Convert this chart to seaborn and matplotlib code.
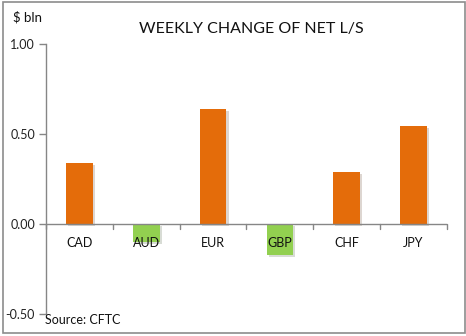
import matplotlib
matplotlib.use("Agg")
import matplotlib.pyplot as plt
import matplotlib.patheffects as pe
from matplotlib.patches import Rectangle
import seaborn as sns
import pandas as pd
import numpy as np

categories = ["CAD", "AUD", "EUR", "GBP", "CHF", "JPY"]
values = [0.34, -0.10, 0.64, -0.17, 0.29, 0.545]
bar_colors = ["#E46C0A", "#92D050", "#E46C0A", "#92D050", "#E46C0A", "#E46C0A"]
y_ticks = [-0.50, 0.00, 0.50, 1.00]
y_tick_labels = ["-0.50", "0.00", "0.50", "1.00"]

sns.set_theme(style="white")
plt.rcParams["font.family"] = ["Lato", "DejaVu Sans"]

df = pd.DataFrame({"cat": categories, "val": values})

fig = plt.figure(figsize=(4.66, 3.36), dpi=100)
ax = fig.add_axes([46/466, 1-314/336, (447-46)/466, (314-44)/336])

sns.barplot(data=df, x="cat", y="val", hue="cat", palette=bar_colors,
            legend=False, width=0.4, ax=ax, saturation=1, linewidth=0)
for p in ax.patches:
    p.set_edgecolor("none")
    p.set_linewidth(0)
    p.set_path_effects([pe.SimplePatchShadow(offset=(1.5, -1.5), alpha=0.18), pe.Normal()])

ax.set_ylim(-0.5, 1.0)
ax.set_xlim(-0.5, len(categories) - 0.5)
ax.set_yticks(y_ticks)
ax.set_yticklabels(y_tick_labels, fontsize=9, color="#222222")
ax.set_xlabel("")
ax.set_ylabel("")

for s in ["top", "right", "bottom"]:
    ax.spines[s].set_visible(False)
ax.spines["left"].set_color("#868686")
ax.spines["left"].set_linewidth(1.0)
ax.axhline(0, color="#868686", lw=1.0, zorder=3)

ax.tick_params(axis="y", which="major", direction="out", length=5, width=1,
               color="#868686", left=True, pad=3)
ax.tick_params(axis="x", which="major", length=0)

# category boundary tick marks hanging from the zero line
for b in np.arange(-0.5, len(categories), 1.0):
    ax.plot([b, b], [0, -0.028], color="#868686", lw=1.0, clip_on=False, zorder=3)

ax.set_xticks(range(len(categories)))
ax.set_xticklabels([])
for i, c in enumerate(categories):
    ax.text(i, -0.106, c, ha="center", va="center", fontsize=9, color="#111111", zorder=5)

fig.text(251/466, 1-29/336, "WEEKLY CHANGE OF NET L/S", fontsize=11.5, ha="center",
         va="center", color="#111111")
fig.text(13/466, 1-17/336, "$ bln", fontsize=9.5, ha="left", va="center", color="#111111")
fig.text(45/466, 1-320/336, "Source: CFTC", fontsize=9, ha="left", va="center", color="#111111")

fig.patches.append(Rectangle((3/466, 3/336), 462/466, 331/336, transform=fig.transFigure,
                             fill=False, edgecolor="#8C8C8C", lw=1.2))

fig.savefig("out.png", dpi=100)
